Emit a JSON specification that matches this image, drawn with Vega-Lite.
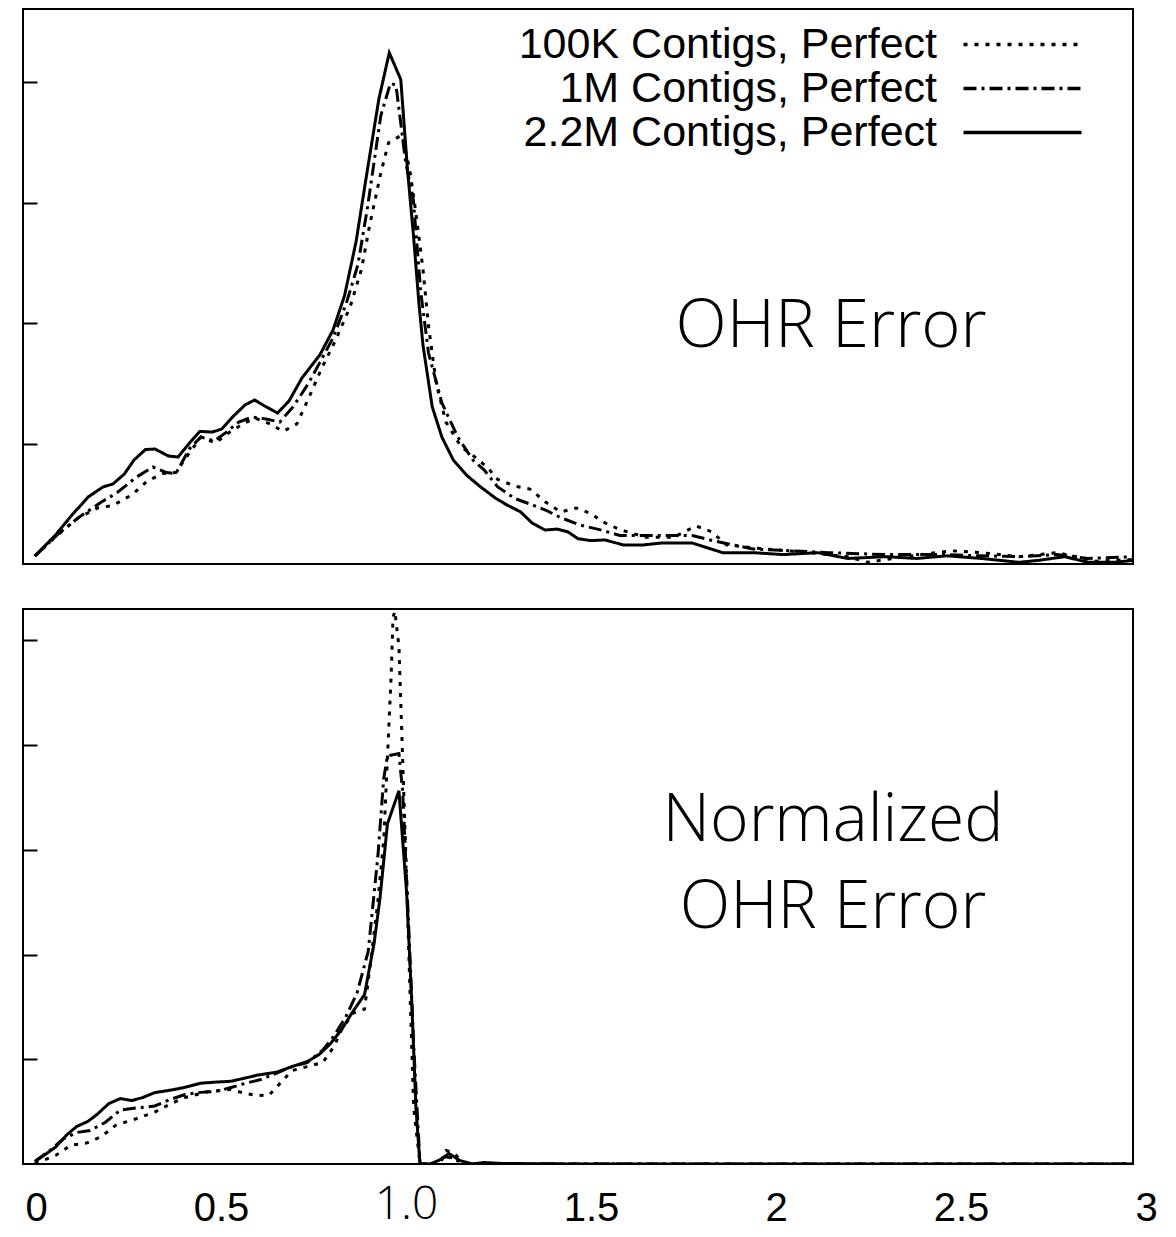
{
  "$schema": "https://vega.github.io/schema/vega-lite/v6.json",
  "padding": {"left": 21, "top": 8, "right": 0, "bottom": 0},
  "background": "white",
  "config": {"view": {"stroke": "black", "strokeWidth": 2}, "font": "Liberation Sans"},
  "spacing": 43,
  "resolve": {"scale": {"strokeDash": "independent"}, "legend": {"strokeDash": "independent"}},
  "datasets": {
    "ohr": [
      {"series": "2.2M Contigs, Perfect", "x": 0.032, "y": 0.066},
      {"series": "2.2M Contigs, Perfect", "x": 0.088, "y": 0.241},
      {"series": "2.2M Contigs, Perfect", "x": 0.130, "y": 0.398},
      {"series": "2.2M Contigs, Perfect", "x": 0.176, "y": 0.556},
      {"series": "2.2M Contigs, Perfect", "x": 0.216, "y": 0.639},
      {"series": "2.2M Contigs, Perfect", "x": 0.243, "y": 0.664},
      {"series": "2.2M Contigs, Perfect", "x": 0.274, "y": 0.747},
      {"series": "2.2M Contigs, Perfect", "x": 0.300, "y": 0.863},
      {"series": "2.2M Contigs, Perfect", "x": 0.331, "y": 0.950},
      {"series": "2.2M Contigs, Perfect", "x": 0.357, "y": 0.954},
      {"series": "2.2M Contigs, Perfect", "x": 0.393, "y": 0.896},
      {"series": "2.2M Contigs, Perfect", "x": 0.419, "y": 0.888},
      {"series": "2.2M Contigs, Perfect", "x": 0.450, "y": 1.004},
      {"series": "2.2M Contigs, Perfect", "x": 0.478, "y": 1.100},
      {"series": "2.2M Contigs, Perfect", "x": 0.512, "y": 1.095},
      {"series": "2.2M Contigs, Perfect", "x": 0.537, "y": 1.120},
      {"series": "2.2M Contigs, Perfect", "x": 0.569, "y": 1.228},
      {"series": "2.2M Contigs, Perfect", "x": 0.600, "y": 1.320},
      {"series": "2.2M Contigs, Perfect", "x": 0.626, "y": 1.361},
      {"series": "2.2M Contigs, Perfect", "x": 0.657, "y": 1.305},
      {"series": "2.2M Contigs, Perfect", "x": 0.688, "y": 1.253},
      {"series": "2.2M Contigs, Perfect", "x": 0.719, "y": 1.353},
      {"series": "2.2M Contigs, Perfect", "x": 0.754, "y": 1.544},
      {"series": "2.2M Contigs, Perfect", "x": 0.802, "y": 1.734},
      {"series": "2.2M Contigs, Perfect", "x": 0.838, "y": 1.942},
      {"series": "2.2M Contigs, Perfect", "x": 0.869, "y": 2.227},
      {"series": "2.2M Contigs, Perfect", "x": 0.900, "y": 2.672},
      {"series": "2.2M Contigs, Perfect", "x": 0.926, "y": 3.178},
      {"series": "2.2M Contigs, Perfect", "x": 0.962, "y": 3.862},
      {"series": "2.2M Contigs, Perfect", "x": 0.990, "y": 4.243},
      {"series": "2.2M Contigs, Perfect", "x": 1.021, "y": 4.021},
      {"series": "2.2M Contigs, Perfect", "x": 1.039, "y": 3.278},
      {"series": "2.2M Contigs, Perfect", "x": 1.055, "y": 2.739},
      {"series": "2.2M Contigs, Perfect", "x": 1.070, "y": 2.166},
      {"series": "2.2M Contigs, Perfect", "x": 1.081, "y": 1.817},
      {"series": "2.2M Contigs, Perfect", "x": 1.106, "y": 1.305},
      {"series": "2.2M Contigs, Perfect", "x": 1.132, "y": 1.054},
      {"series": "2.2M Contigs, Perfect", "x": 1.163, "y": 0.863},
      {"series": "2.2M Contigs, Perfect", "x": 1.200, "y": 0.734},
      {"series": "2.2M Contigs, Perfect", "x": 1.237, "y": 0.639},
      {"series": "2.2M Contigs, Perfect", "x": 1.278, "y": 0.544},
      {"series": "2.2M Contigs, Perfect", "x": 1.308, "y": 0.490},
      {"series": "2.2M Contigs, Perfect", "x": 1.345, "y": 0.432},
      {"series": "2.2M Contigs, Perfect", "x": 1.376, "y": 0.340},
      {"series": "2.2M Contigs, Perfect", "x": 1.411, "y": 0.282},
      {"series": "2.2M Contigs, Perfect", "x": 1.443, "y": 0.290},
      {"series": "2.2M Contigs, Perfect", "x": 1.473, "y": 0.266},
      {"series": "2.2M Contigs, Perfect", "x": 1.500, "y": 0.210},
      {"series": "2.2M Contigs, Perfect", "x": 1.535, "y": 0.194},
      {"series": "2.2M Contigs, Perfect", "x": 1.572, "y": 0.200},
      {"series": "2.2M Contigs, Perfect", "x": 1.623, "y": 0.158},
      {"series": "2.2M Contigs, Perfect", "x": 1.675, "y": 0.158},
      {"series": "2.2M Contigs, Perfect", "x": 1.726, "y": 0.174},
      {"series": "2.2M Contigs, Perfect", "x": 1.809, "y": 0.174},
      {"series": "2.2M Contigs, Perfect", "x": 1.891, "y": 0.094},
      {"series": "2.2M Contigs, Perfect", "x": 1.973, "y": 0.094},
      {"series": "2.2M Contigs, Perfect", "x": 2.055, "y": 0.078},
      {"series": "2.2M Contigs, Perfect", "x": 2.148, "y": 0.094},
      {"series": "2.2M Contigs, Perfect", "x": 2.229, "y": 0.046},
      {"series": "2.2M Contigs, Perfect", "x": 2.333, "y": 0.061},
      {"series": "2.2M Contigs, Perfect", "x": 2.415, "y": 0.046},
      {"series": "2.2M Contigs, Perfect", "x": 2.497, "y": 0.068},
      {"series": "2.2M Contigs, Perfect", "x": 2.590, "y": 0.046},
      {"series": "2.2M Contigs, Perfect", "x": 2.692, "y": 0.014},
      {"series": "2.2M Contigs, Perfect", "x": 2.744, "y": 0.030},
      {"series": "2.2M Contigs, Perfect", "x": 2.816, "y": 0.061},
      {"series": "2.2M Contigs, Perfect", "x": 2.878, "y": 0.014},
      {"series": "2.2M Contigs, Perfect", "x": 2.950, "y": 0.014},
      {"series": "2.2M Contigs, Perfect", "x": 3.000, "y": 0.030},

      {"series": "1M Contigs, Perfect", "x": 0.032, "y": 0.066},
      {"series": "1M Contigs, Perfect", "x": 0.098, "y": 0.257},
      {"series": "1M Contigs, Perfect", "x": 0.150, "y": 0.385},
      {"series": "1M Contigs, Perfect", "x": 0.212, "y": 0.515},
      {"series": "1M Contigs, Perfect", "x": 0.254, "y": 0.591},
      {"series": "1M Contigs, Perfect", "x": 0.305, "y": 0.718},
      {"series": "1M Contigs, Perfect", "x": 0.351, "y": 0.805},
      {"series": "1M Contigs, Perfect", "x": 0.388, "y": 0.759},
      {"series": "1M Contigs, Perfect", "x": 0.413, "y": 0.750},
      {"series": "1M Contigs, Perfect", "x": 0.450, "y": 0.957},
      {"series": "1M Contigs, Perfect", "x": 0.481, "y": 1.054},
      {"series": "1M Contigs, Perfect", "x": 0.517, "y": 1.021},
      {"series": "1M Contigs, Perfect", "x": 0.548, "y": 1.090},
      {"series": "1M Contigs, Perfect", "x": 0.583, "y": 1.178},
      {"series": "1M Contigs, Perfect", "x": 0.620, "y": 1.220},
      {"series": "1M Contigs, Perfect", "x": 0.657, "y": 1.203},
      {"series": "1M Contigs, Perfect", "x": 0.694, "y": 1.178},
      {"series": "1M Contigs, Perfect", "x": 0.730, "y": 1.305},
      {"series": "1M Contigs, Perfect", "x": 0.771, "y": 1.496},
      {"series": "1M Contigs, Perfect", "x": 0.802, "y": 1.671},
      {"series": "1M Contigs, Perfect", "x": 0.838, "y": 1.877},
      {"series": "1M Contigs, Perfect", "x": 0.874, "y": 2.166},
      {"series": "1M Contigs, Perfect", "x": 0.905, "y": 2.481},
      {"series": "1M Contigs, Perfect", "x": 0.931, "y": 2.957},
      {"series": "1M Contigs, Perfect", "x": 0.967, "y": 3.720},
      {"series": "1M Contigs, Perfect", "x": 0.993, "y": 3.989},
      {"series": "1M Contigs, Perfect", "x": 1.008, "y": 3.975},
      {"series": "1M Contigs, Perfect", "x": 1.034, "y": 3.339},
      {"series": "1M Contigs, Perfect", "x": 1.055, "y": 3.021},
      {"series": "1M Contigs, Perfect", "x": 1.075, "y": 2.259},
      {"series": "1M Contigs, Perfect", "x": 1.096, "y": 1.751},
      {"series": "1M Contigs, Perfect", "x": 1.132, "y": 1.338},
      {"series": "1M Contigs, Perfect", "x": 1.175, "y": 1.054},
      {"series": "1M Contigs, Perfect", "x": 1.216, "y": 0.863},
      {"series": "1M Contigs, Perfect", "x": 1.246, "y": 0.782},
      {"series": "1M Contigs, Perfect", "x": 1.283, "y": 0.639},
      {"series": "1M Contigs, Perfect", "x": 1.329, "y": 0.544},
      {"series": "1M Contigs, Perfect", "x": 1.370, "y": 0.498},
      {"series": "1M Contigs, Perfect", "x": 1.412, "y": 0.448},
      {"series": "1M Contigs, Perfect", "x": 1.453, "y": 0.385},
      {"series": "1M Contigs, Perfect", "x": 1.505, "y": 0.324},
      {"series": "1M Contigs, Perfect", "x": 1.565, "y": 0.280},
      {"series": "1M Contigs, Perfect", "x": 1.613, "y": 0.237},
      {"series": "1M Contigs, Perfect", "x": 1.716, "y": 0.237},
      {"series": "1M Contigs, Perfect", "x": 1.809, "y": 0.237},
      {"series": "1M Contigs, Perfect", "x": 1.871, "y": 0.189},
      {"series": "1M Contigs, Perfect", "x": 1.973, "y": 0.125},
      {"series": "1M Contigs, Perfect", "x": 2.076, "y": 0.110},
      {"series": "1M Contigs, Perfect", "x": 2.178, "y": 0.094},
      {"series": "1M Contigs, Perfect", "x": 2.333, "y": 0.078},
      {"series": "1M Contigs, Perfect", "x": 2.487, "y": 0.078},
      {"series": "1M Contigs, Perfect", "x": 2.589, "y": 0.068},
      {"series": "1M Contigs, Perfect", "x": 2.692, "y": 0.061},
      {"series": "1M Contigs, Perfect", "x": 2.794, "y": 0.078},
      {"series": "1M Contigs, Perfect", "x": 2.878, "y": 0.046},
      {"series": "1M Contigs, Perfect", "x": 3.000, "y": 0.061},

      {"series": "100K Contigs, Perfect", "x": 0.032, "y": 0.066},
      {"series": "100K Contigs, Perfect", "x": 0.088, "y": 0.226},
      {"series": "100K Contigs, Perfect", "x": 0.150, "y": 0.385},
      {"series": "100K Contigs, Perfect", "x": 0.202, "y": 0.465},
      {"series": "100K Contigs, Perfect", "x": 0.243, "y": 0.486},
      {"series": "100K Contigs, Perfect", "x": 0.295, "y": 0.575},
      {"series": "100K Contigs, Perfect", "x": 0.336, "y": 0.689},
      {"series": "100K Contigs, Perfect", "x": 0.378, "y": 0.750},
      {"series": "100K Contigs, Perfect", "x": 0.413, "y": 0.759},
      {"series": "100K Contigs, Perfect", "x": 0.450, "y": 0.924},
      {"series": "100K Contigs, Perfect", "x": 0.481, "y": 1.054},
      {"series": "100K Contigs, Perfect", "x": 0.521, "y": 1.004},
      {"series": "100K Contigs, Perfect", "x": 0.553, "y": 1.083},
      {"series": "100K Contigs, Perfect", "x": 0.594, "y": 1.162},
      {"series": "100K Contigs, Perfect", "x": 0.626, "y": 1.212},
      {"series": "100K Contigs, Perfect", "x": 0.668, "y": 1.162},
      {"series": "100K Contigs, Perfect", "x": 0.703, "y": 1.100},
      {"series": "100K Contigs, Perfect", "x": 0.740, "y": 1.162},
      {"series": "100K Contigs, Perfect", "x": 0.771, "y": 1.369},
      {"series": "100K Contigs, Perfect", "x": 0.807, "y": 1.623},
      {"series": "100K Contigs, Perfect", "x": 0.843, "y": 1.846},
      {"series": "100K Contigs, Perfect", "x": 0.884, "y": 2.133},
      {"series": "100K Contigs, Perfect", "x": 0.915, "y": 2.448},
      {"series": "100K Contigs, Perfect", "x": 0.936, "y": 2.798},
      {"series": "100K Contigs, Perfect", "x": 0.967, "y": 3.245},
      {"series": "100K Contigs, Perfect", "x": 0.988, "y": 3.497},
      {"series": "100K Contigs, Perfect", "x": 1.024, "y": 3.560},
      {"series": "100K Contigs, Perfect", "x": 1.045, "y": 3.278},
      {"series": "100K Contigs, Perfect", "x": 1.060, "y": 2.957},
      {"series": "100K Contigs, Perfect", "x": 1.081, "y": 2.448},
      {"series": "100K Contigs, Perfect", "x": 1.096, "y": 1.975},
      {"series": "100K Contigs, Perfect", "x": 1.117, "y": 1.496},
      {"series": "100K Contigs, Perfect", "x": 1.143, "y": 1.178},
      {"series": "100K Contigs, Perfect", "x": 1.184, "y": 0.973},
      {"series": "100K Contigs, Perfect", "x": 1.226, "y": 0.877},
      {"series": "100K Contigs, Perfect", "x": 1.257, "y": 0.797},
      {"series": "100K Contigs, Perfect", "x": 1.283, "y": 0.702},
      {"series": "100K Contigs, Perfect", "x": 1.329, "y": 0.647},
      {"series": "100K Contigs, Perfect", "x": 1.370, "y": 0.622},
      {"series": "100K Contigs, Perfect", "x": 1.412, "y": 0.515},
      {"series": "100K Contigs, Perfect", "x": 1.453, "y": 0.432},
      {"series": "100K Contigs, Perfect", "x": 1.495, "y": 0.465},
      {"series": "100K Contigs, Perfect", "x": 1.536, "y": 0.417},
      {"series": "100K Contigs, Perfect", "x": 1.565, "y": 0.353},
      {"series": "100K Contigs, Perfect", "x": 1.613, "y": 0.285},
      {"series": "100K Contigs, Perfect", "x": 1.685, "y": 0.221},
      {"series": "100K Contigs, Perfect", "x": 1.757, "y": 0.221},
      {"series": "100K Contigs, Perfect", "x": 1.819, "y": 0.315},
      {"series": "100K Contigs, Perfect", "x": 1.861, "y": 0.268},
      {"series": "100K Contigs, Perfect", "x": 1.902, "y": 0.158},
      {"series": "100K Contigs, Perfect", "x": 2.004, "y": 0.125},
      {"series": "100K Contigs, Perfect", "x": 2.127, "y": 0.094},
      {"series": "100K Contigs, Perfect", "x": 2.229, "y": 0.061},
      {"series": "100K Contigs, Perfect", "x": 2.282, "y": 0.014},
      {"series": "100K Contigs, Perfect", "x": 2.385, "y": 0.061},
      {"series": "100K Contigs, Perfect", "x": 2.508, "y": 0.110},
      {"series": "100K Contigs, Perfect", "x": 2.590, "y": 0.094},
      {"series": "100K Contigs, Perfect", "x": 2.692, "y": 0.061},
      {"series": "100K Contigs, Perfect", "x": 2.795, "y": 0.094},
      {"series": "100K Contigs, Perfect", "x": 2.846, "y": 0.061},
      {"series": "100K Contigs, Perfect", "x": 2.899, "y": 0.023},
      {"series": "100K Contigs, Perfect", "x": 3.000, "y": 0.037}
    ],
    "norm": [
      {"series": "2.2M Contigs, Perfect", "x": 0.032, "y": 0.024},
      {"series": "2.2M Contigs, Perfect", "x": 0.056, "y": 0.081},
      {"series": "2.2M Contigs, Perfect", "x": 0.088, "y": 0.161},
      {"series": "2.2M Contigs, Perfect", "x": 0.119, "y": 0.281},
      {"series": "2.2M Contigs, Perfect", "x": 0.145, "y": 0.358},
      {"series": "2.2M Contigs, Perfect", "x": 0.176, "y": 0.408},
      {"series": "2.2M Contigs, Perfect", "x": 0.201, "y": 0.476},
      {"series": "2.2M Contigs, Perfect", "x": 0.232, "y": 0.577},
      {"series": "2.2M Contigs, Perfect", "x": 0.263, "y": 0.625},
      {"series": "2.2M Contigs, Perfect", "x": 0.294, "y": 0.606},
      {"series": "2.2M Contigs, Perfect", "x": 0.324, "y": 0.635},
      {"series": "2.2M Contigs, Perfect", "x": 0.356, "y": 0.682},
      {"series": "2.2M Contigs, Perfect", "x": 0.397, "y": 0.704},
      {"series": "2.2M Contigs, Perfect", "x": 0.438, "y": 0.732},
      {"series": "2.2M Contigs, Perfect", "x": 0.479, "y": 0.771},
      {"series": "2.2M Contigs, Perfect", "x": 0.521, "y": 0.782},
      {"series": "2.2M Contigs, Perfect", "x": 0.562, "y": 0.790},
      {"series": "2.2M Contigs, Perfect", "x": 0.602, "y": 0.822},
      {"series": "2.2M Contigs, Perfect", "x": 0.634, "y": 0.849},
      {"series": "2.2M Contigs, Perfect", "x": 0.686, "y": 0.877},
      {"series": "2.2M Contigs, Perfect", "x": 0.727, "y": 0.930},
      {"series": "2.2M Contigs, Perfect", "x": 0.768, "y": 0.978},
      {"series": "2.2M Contigs, Perfect", "x": 0.800, "y": 1.045},
      {"series": "2.2M Contigs, Perfect", "x": 0.830, "y": 1.145},
      {"series": "2.2M Contigs, Perfect", "x": 0.861, "y": 1.283},
      {"series": "2.2M Contigs, Perfect", "x": 0.892, "y": 1.459},
      {"series": "2.2M Contigs, Perfect", "x": 0.923, "y": 1.617},
      {"series": "2.2M Contigs, Perfect", "x": 0.949, "y": 2.109},
      {"series": "2.2M Contigs, Perfect", "x": 0.965, "y": 2.543},
      {"series": "2.2M Contigs, Perfect", "x": 0.985, "y": 3.249},
      {"series": "2.2M Contigs, Perfect", "x": 1.016, "y": 3.564},
      {"series": "2.2M Contigs, Perfect", "x": 1.037, "y": 2.581},
      {"series": "2.2M Contigs, Perfect", "x": 1.051, "y": 1.522},
      {"series": "2.2M Contigs, Perfect", "x": 1.062, "y": 0.534},
      {"series": "2.2M Contigs, Perfect", "x": 1.073, "y": 0.0},
      {"series": "2.2M Contigs, Perfect", "x": 1.100, "y": 0.0},
      {"series": "2.2M Contigs, Perfect", "x": 1.129, "y": 0.043},
      {"series": "2.2M Contigs, Perfect", "x": 1.151, "y": 0.100},
      {"series": "2.2M Contigs, Perfect", "x": 1.181, "y": 0.033},
      {"series": "2.2M Contigs, Perfect", "x": 1.214, "y": 0.0},
      {"series": "2.2M Contigs, Perfect", "x": 1.246, "y": 0.014},
      {"series": "2.2M Contigs, Perfect", "x": 1.295, "y": 0.005},
      {"series": "2.2M Contigs, Perfect", "x": 1.500, "y": 0.0},
      {"series": "2.2M Contigs, Perfect", "x": 2.000, "y": 0.0},
      {"series": "2.2M Contigs, Perfect", "x": 2.500, "y": 0.0},
      {"series": "2.2M Contigs, Perfect", "x": 3.000, "y": 0.0},

      {"series": "1M Contigs, Perfect", "x": 0.032, "y": 0.024},
      {"series": "1M Contigs, Perfect", "x": 0.077, "y": 0.141},
      {"series": "1M Contigs, Perfect", "x": 0.109, "y": 0.240},
      {"series": "1M Contigs, Perfect", "x": 0.145, "y": 0.301},
      {"series": "1M Contigs, Perfect", "x": 0.181, "y": 0.320},
      {"series": "1M Contigs, Perfect", "x": 0.222, "y": 0.396},
      {"series": "1M Contigs, Perfect", "x": 0.263, "y": 0.515},
      {"series": "1M Contigs, Perfect", "x": 0.304, "y": 0.534},
      {"series": "1M Contigs, Perfect", "x": 0.356, "y": 0.554},
      {"series": "1M Contigs, Perfect", "x": 0.397, "y": 0.615},
      {"series": "1M Contigs, Perfect", "x": 0.438, "y": 0.663},
      {"series": "1M Contigs, Perfect", "x": 0.479, "y": 0.684},
      {"series": "1M Contigs, Perfect", "x": 0.521, "y": 0.692},
      {"series": "1M Contigs, Perfect", "x": 0.562, "y": 0.730},
      {"series": "1M Contigs, Perfect", "x": 0.602, "y": 0.771},
      {"series": "1M Contigs, Perfect", "x": 0.645, "y": 0.809},
      {"series": "1M Contigs, Perfect", "x": 0.686, "y": 0.869},
      {"series": "1M Contigs, Perfect", "x": 0.727, "y": 0.930},
      {"series": "1M Contigs, Perfect", "x": 0.768, "y": 0.969},
      {"series": "1M Contigs, Perfect", "x": 0.810, "y": 1.086},
      {"series": "1M Contigs, Perfect", "x": 0.841, "y": 1.226},
      {"series": "1M Contigs, Perfect", "x": 0.872, "y": 1.401},
      {"series": "1M Contigs, Perfect", "x": 0.903, "y": 1.636},
      {"series": "1M Contigs, Perfect", "x": 0.933, "y": 2.030},
      {"series": "1M Contigs, Perfect", "x": 0.959, "y": 2.934},
      {"series": "1M Contigs, Perfect", "x": 0.975, "y": 3.682},
      {"series": "1M Contigs, Perfect", "x": 0.985, "y": 3.898},
      {"series": "1M Contigs, Perfect", "x": 1.016, "y": 3.919},
      {"series": "1M Contigs, Perfect", "x": 1.026, "y": 3.564},
      {"series": "1M Contigs, Perfect", "x": 1.042, "y": 2.304},
      {"series": "1M Contigs, Perfect", "x": 1.056, "y": 1.125},
      {"series": "1M Contigs, Perfect", "x": 1.073, "y": 0.0},
      {"series": "1M Contigs, Perfect", "x": 1.110, "y": 0.0},
      {"series": "1M Contigs, Perfect", "x": 1.140, "y": 0.070},
      {"series": "1M Contigs, Perfect", "x": 1.160, "y": 0.060},
      {"series": "1M Contigs, Perfect", "x": 1.190, "y": 0.0},
      {"series": "1M Contigs, Perfect", "x": 1.500, "y": 0.0},
      {"series": "1M Contigs, Perfect", "x": 2.000, "y": 0.0},
      {"series": "1M Contigs, Perfect", "x": 2.500, "y": 0.0},
      {"series": "1M Contigs, Perfect", "x": 3.000, "y": 0.0},

      {"series": "100K Contigs, Perfect", "x": 0.032, "y": 0.005},
      {"series": "100K Contigs, Perfect", "x": 0.088, "y": 0.081},
      {"series": "100K Contigs, Perfect", "x": 0.129, "y": 0.180},
      {"series": "100K Contigs, Perfect", "x": 0.171, "y": 0.199},
      {"series": "100K Contigs, Perfect", "x": 0.212, "y": 0.262},
      {"series": "100K Contigs, Perfect", "x": 0.253, "y": 0.377},
      {"series": "100K Contigs, Perfect", "x": 0.294, "y": 0.417},
      {"series": "100K Contigs, Perfect", "x": 0.356, "y": 0.495},
      {"series": "100K Contigs, Perfect", "x": 0.397, "y": 0.571},
      {"series": "100K Contigs, Perfect", "x": 0.438, "y": 0.635},
      {"series": "100K Contigs, Perfect", "x": 0.500, "y": 0.692},
      {"series": "100K Contigs, Perfect", "x": 0.562, "y": 0.711},
      {"series": "100K Contigs, Perfect", "x": 0.602, "y": 0.673},
      {"series": "100K Contigs, Perfect", "x": 0.634, "y": 0.654},
      {"series": "100K Contigs, Perfect", "x": 0.665, "y": 0.657},
      {"series": "100K Contigs, Perfect", "x": 0.697, "y": 0.778},
      {"series": "100K Contigs, Perfect", "x": 0.727, "y": 0.892},
      {"series": "100K Contigs, Perfect", "x": 0.768, "y": 0.930},
      {"series": "100K Contigs, Perfect", "x": 0.810, "y": 0.969},
      {"series": "100K Contigs, Perfect", "x": 0.841, "y": 1.125},
      {"series": "100K Contigs, Perfect", "x": 0.861, "y": 1.283},
      {"series": "100K Contigs, Perfect", "x": 0.892, "y": 1.440},
      {"series": "100K Contigs, Perfect", "x": 0.923, "y": 1.479},
      {"series": "100K Contigs, Perfect", "x": 0.939, "y": 1.913},
      {"series": "100K Contigs, Perfect", "x": 0.959, "y": 2.505},
      {"series": "100K Contigs, Perfect", "x": 0.975, "y": 3.096},
      {"series": "100K Contigs, Perfect", "x": 0.985, "y": 3.879},
      {"series": "100K Contigs, Perfect", "x": 0.995, "y": 4.666},
      {"series": "100K Contigs, Perfect", "x": 1.000, "y": 5.218},
      {"series": "100K Contigs, Perfect", "x": 1.005, "y": 5.280},
      {"series": "100K Contigs, Perfect", "x": 1.016, "y": 4.942},
      {"series": "100K Contigs, Perfect", "x": 1.026, "y": 3.879},
      {"series": "100K Contigs, Perfect", "x": 1.037, "y": 2.698},
      {"series": "100K Contigs, Perfect", "x": 1.047, "y": 1.522},
      {"series": "100K Contigs, Perfect", "x": 1.056, "y": 0.534},
      {"series": "100K Contigs, Perfect", "x": 1.073, "y": 0.0},
      {"series": "100K Contigs, Perfect", "x": 1.127, "y": 0.0},
      {"series": "100K Contigs, Perfect", "x": 1.143, "y": 0.129},
      {"series": "100K Contigs, Perfect", "x": 1.164, "y": 0.110},
      {"series": "100K Contigs, Perfect", "x": 1.191, "y": 0.0},
      {"series": "100K Contigs, Perfect", "x": 1.500, "y": 0.0},
      {"series": "100K Contigs, Perfect", "x": 2.000, "y": 0.0},
      {"series": "100K Contigs, Perfect", "x": 2.500, "y": 0.0},
      {"series": "100K Contigs, Perfect", "x": 3.000, "y": 0.0}
    ]
  },
  "vconcat": [
    {
      "width": 1110,
      "height": 555,
      "layer": [
        {
          "data": {"name": "ohr"},
          "mark": {"type": "line", "strokeWidth": 3, "color": "black", "clip": true, "strokeJoin": "miter"},
          "encoding": {
            "x": {"field": "x", "type": "quantitative", "scale": {"domain": [0, 3], "nice": false, "zero": false}, "axis": null},
            "y": {"field": "y", "type": "quantitative", "scale": {"domain": [0, 4.606], "nice": false},
                  "axis": {"values": [1, 2, 3, 4], "labels": false, "domain": false, "grid": false, "tickSize": -14, "tickWidth": 2, "tickColor": "black", "title": null}},
            "strokeDash": {
              "field": "series", "type": "nominal",
              "scale": {"domain": ["100K Contigs, Perfect", "1M Contigs, Perfect", "2.2M Contigs, Perfect"], "range": [[4, 7], [13, 5, 3, 5], [1, 0]]},
              "legend": {"orient": "none", "legendX": 978, "legendY": 14, "title": null, "symbolType": "M-5,0H5", "symbolSize": 557, "symbolStrokeWidth": 3.3, "symbolStrokeColor": "black", "symbolOffset": 0, "labelAlign": "right", "labelOffset": -107, "labelFontSize": 43, "labelFont": "Liberation Sans", "labelColor": "black", "labelLimit": 0, "rowPadding": -1, "padding": 0}
            }
          }
        },
        {
          "data": {"values": [{}]},
          "mark": {"type": "text", "text": "OHR Error", "font": "Open Sans", "fontWeight": 300, "fontSize": 67, "align": "center", "baseline": "middle", "color": "black"},
          "encoding": {"x": {"datum": 2.184}, "y": {"datum": 1.967}}
        }
      ]
    },
    {
      "width": 1110,
      "height": 555,
      "layer": [
        {
          "data": {"name": "norm"},
          "mark": {"type": "line", "strokeWidth": 3, "color": "black", "clip": true, "strokeJoin": "miter"},
          "encoding": {
            "x": {"field": "x", "type": "quantitative", "scale": {"domain": [0, 3], "nice": false, "zero": false},
                  "axis": {"values": [0, 0.5, 1, 1.5, 2, 2.5, 3], "ticks": false, "domain": false, "grid": false, "title": null,
                           "labelExpr": "datum.value == 1 ? '1.0' : format(datum.value, '~g')",
                           "labelFontSize": {"condition": {"test": "datum.value == 1", "value": 46}, "value": 40},
                           "labelFont": {"condition": {"test": "datum.value == 1", "value": "Open Sans"}, "value": "Liberation Sans"},
                           "labelFontWeight": {"condition": {"test": "datum.value == 1", "value": 300}, "value": 400},
                           "labelPadding": {"condition": {"test": "datum.value == 1", "value": 18}, "value": 24},
                           "labelBaseline": "top", "labelOffset": 13, "labelColor": "black", "labelFlush": false, "labelOverlap": false, "labelBound": false}},
            "y": {"field": "y", "type": "quantitative", "scale": {"domain": [0, 5.3], "nice": false},
                  "axis": {"values": [1, 2, 3, 4, 5], "labels": false, "domain": false, "grid": false, "tickSize": -14, "tickWidth": 2, "tickColor": "black", "title": null}},
            "strokeDash": {
              "field": "series", "type": "nominal",
              "scale": {"domain": ["100K Contigs, Perfect", "1M Contigs, Perfect", "2.2M Contigs, Perfect"], "range": [[4, 7], [13, 5, 3, 5], [1, 0]]},
              "legend": null
            }
          }
        },
        {
          "data": {"values": [{}]},
          "mark": {"type": "text", "text": ["Normalized", "OHR Error"], "lineHeight": 87, "font": "Open Sans", "fontWeight": 300, "fontSize": 66, "align": "center", "baseline": "middle", "color": "black"},
          "encoding": {"x": {"datum": 2.189}, "y": {"datum": 3.273}}
        }
      ]
    }
  ]
}
